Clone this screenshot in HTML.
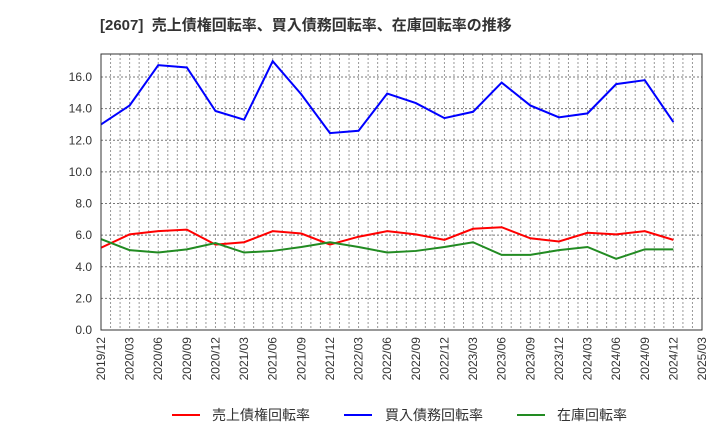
<!DOCTYPE html>
<html><head><meta charset="utf-8"><style>
body{margin:0;background:#fff;font-family:"Liberation Sans","Noto Sans CJK JP",sans-serif;}
</style></head><body>
<svg width="720" height="440" xmlns="http://www.w3.org/2000/svg" font-family="Liberation Sans, Noto Sans CJK JP, sans-serif">
<text x="100" y="30" font-size="15" font-weight="bold" fill="#333" xml:space="preserve">[2607]  売上債権回転率、買入債務回転率、在庫回転率の推移</text>
<g id="grid"></g>
<g id="axes"></g>
<g id="lines"></g>
<rect x="101" y="54" width="601" height="276" fill="none" stroke="#333" stroke-width="1"/>
<g font-size="14" fill="#333">
<line x1="172" y1="415" x2="200" y2="415" stroke="#ff0000" stroke-width="2"/>
<text x="212" y="420">売上債権回転率</text>
<line x1="344" y1="415" x2="372" y2="415" stroke="#0000ff" stroke-width="2"/>
<text x="385" y="420">買入債務回転率</text>
<line x1="517" y1="415" x2="545" y2="415" stroke="#228b22" stroke-width="2"/>
<text x="557" y="420">在庫回転率</text>
</g>
</svg>
<script>
const categories=["2019/12","2020/03","2020/06","2020/09","2020/12","2021/03","2021/06","2021/09","2021/12","2022/03","2022/06","2022/09","2022/12","2023/03","2023/06","2023/09","2023/12","2024/03","2024/06","2024/09","2024/12","2025/03"];
const receivables=[5.2,6.05,6.25,6.35,5.4,5.55,6.25,6.1,5.4,5.9,6.25,6.05,5.7,6.4,6.5,5.8,5.6,6.15,6.05,6.25,5.7];
const payables=[13.0,14.2,16.75,16.6,13.85,13.3,17.0,14.9,12.45,12.6,14.95,14.35,13.4,13.8,15.65,14.2,13.45,13.7,15.55,15.8,13.15];
const inventory=[5.75,5.05,4.9,5.1,5.5,4.9,5.0,5.25,5.55,5.25,4.9,5.0,5.25,5.55,4.75,4.75,5.05,5.25,4.5,5.1,5.1];
const yTicks=[0,2,4,6,8,10,12,14,16];
const NS="http://www.w3.org/2000/svg";
const X0=101,X1=702,Y0=330,Y16=77;
function xs(i){return X0+(X1-X0)*i/(categories.length-1);}
function ys(v){return Y0-(Y0-Y16)*v/16;}
function mk(t,a,p){const e=document.createElementNS(NS,t);for(const k in a)e.setAttribute(k,a[k]);p.appendChild(e);return e;}
const grid=document.getElementById('grid'),axes=document.getElementById('axes'),lines=document.getElementById('lines');
const months=(categories.length-1)*3;
for(let m=1;m<months;m++){const x=X0+(X1-X0)*m/months;
const l=mk('line',{x1:x,y1:54,x2:x,y2:330,stroke:'#999','stroke-dasharray':'2,2','stroke-width':1},grid);

}
yTicks.forEach(v=>{const y=ys(v);
if(v>0){const l=mk('line',{x1:X0,y1:y,x2:X1,y2:y,stroke:'#777','stroke-dasharray':'2,2','stroke-width':1},grid);

}
const t=mk('text',{x:92,y:y+4,'text-anchor':'end','font-size':12,fill:'#333'},axes);t.textContent=v.toFixed(1);

});
categories.forEach((c,i)=>{const x=xs(i);
const t=mk('text',{x:x+4,y:337,'text-anchor':'end','font-size':12,fill:'#333',transform:`rotate(-90 ${x+4} 337)`},axes);t.textContent=c;

});
[[receivables,'#ff0000','receivables-line'],[payables,'#0000ff','payables-line'],[inventory,'#228b22','inventory-line']].forEach(([d,c,n])=>{
const p=mk('polyline',{points:d.map((v,i)=>xs(i)+','+ys(v)).join(' '),fill:'none',stroke:c,'stroke-width':2},lines);

});
</script>
</body></html>
